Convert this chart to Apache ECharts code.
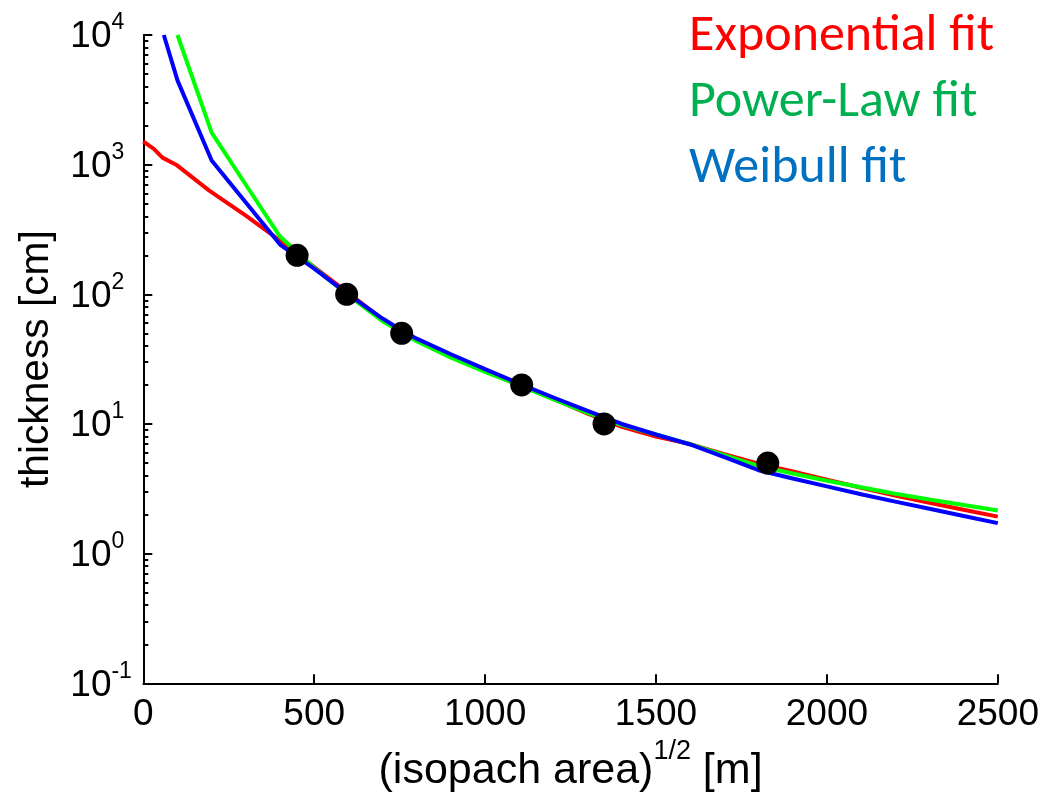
<!DOCTYPE html>
<html>
<head>
<meta charset="utf-8">
<script src="https://cdn.jsdelivr.net/npm/echarts@6/dist/echarts.min.js"></script>
<style>
html,body{margin:0;padding:0;background:#fff;}
#chart{width:1054px;height:792px;}
</style>
</head>
<body>
<div id="chart"></div>
<script>
// ---- data ----
const xTicks = [0, 500, 1000, 1500, 2000, 2500];
const yTicks = [0.1, 1, 10, 100, 1000, 10000];

const expX = [0, 17, 30, 56, 96, 193, 300, 400, 450, 500, 600, 700, 760, 800, 900, 1000, 1100, 1200, 1300, 1400, 1500, 1600, 1700, 1800, 1900, 2000, 2100, 2200, 2300, 2400, 2500];
const expY = [1514, 1403, 1330, 1133, 1000, 631, 405, 260, 205, 162, 102, 64, 51, 44.5, 33.5, 26, 20, 15.6, 12, 9.5, 8.0, 7.0, 5.85, 4.95, 4.3, 3.72, 3.22, 2.8, 2.47, 2.18, 1.93];

const powX = [100, 200, 300, 400, 450, 500, 600, 700, 760, 800, 900, 1000, 1100, 1200, 1300, 1400, 1500, 1600, 1700, 1800, 1900, 2000, 2100, 2200, 2300, 2400, 2500];
const powY = [10000, 1766, 700, 279, 212, 160, 98, 62, 50, 43.5, 32.5, 25.2, 19.8, 15.5, 12.2, 9.8, 8.3, 7.0, 5.75, 4.75, 4.15, 3.65, 3.25, 2.9, 2.62, 2.37, 2.15];

const weiX = [60, 100, 200, 300, 400, 450, 500, 600, 700, 760, 800, 900, 1000, 1100, 1200, 1300, 1400, 1500, 1600, 1700, 1800, 1900, 2000, 2100, 2200, 2300, 2400, 2500];
const weiY = [10000, 4467, 1076, 510, 242, 195, 158, 100, 65, 52, 45.5, 34.5, 26.5, 20.5, 16, 12.6, 10, 8.3, 6.95, 5.55, 4.4, 3.8, 3.3, 2.87, 2.52, 2.22, 1.95, 1.72];

const obsX = [450, 595, 756, 1107, 1348, 1827];
const obsY = [200, 100, 50, 20, 10, 5];

const seriesNames = ['Exponential fit', 'Power-Law fit', 'Weibull fit'];
const legendColors = ['#FF0000', '#00B050', '#0070C0'];
const lineColors = ['#FF0000', '#00FF00', '#0000FF'];

// minor tick positions for the log axis (2..9 x 10^k)
const minorTicks = [];
for (let k = -1; k < 4; k++) {
  for (let m = 2; m <= 9; m++) minorTicks.push(+(m * Math.pow(10, k)).toPrecision(6));
}

const zip = (xs, ys) => xs.map((x, i) => [x, ys[i]]);

const FONT = '"Liberation Sans", Arial, sans-serif';
const chart = echarts.init(document.getElementById('chart'), null, {renderer: 'canvas'});

const option = {
  animation: false,
  backgroundColor: '#ffffff',
  grid: {left: 143.3, right: 56.2, top: 35, bottom: 108.7, containLabel: false, outerBoundsMode: 'none'},
  legend: {
    orient: 'vertical',
    left: 679,
    top: 4,
    itemWidth: 0,
    itemHeight: 0,
    itemGap: 10,
    selectedMode: false,
    textStyle: {fontSize: 52, fontFamily: 'Carlito, Lato, sans-serif', lineHeight: 56},
    data: seriesNames.map((n, i) => ({name: n, icon: 'rect', textStyle: {color: legendColors[i]}}))
  },
  xAxis: {
    type: 'value',
    min: 0, max: 2500, interval: 500,
    axisLine: {show: true, lineStyle: {color: '#000', width: 2}},
    axisTick: {show: true, inside: true, length: 9, lineStyle: {color: '#000', width: 2}},
    axisLabel: {fontSize: 37, color: '#000', fontFamily: FONT, margin: 13,
      customValues: xTicks, formatter: v => String(v)},
    splitLine: {show: false},
    name: '{a|(isopach area)}{s|1/2}{a| [m]}',
    nameLocation: 'middle',
    nameGap: 56,
    nameTextStyle: {
      color: '#000', fontFamily: FONT, fontSize: 43,
      rich: {
        a: {fontSize: 43, lineHeight: 43, fontFamily: FONT, color: '#000'},
        s: {fontSize: 27, lineHeight: 27, fontFamily: FONT, color: '#000', padding: [0, 0, 38, 0]}
      }
    }
  },
  yAxis: [{
    type: 'log',
    logBase: 10,
    min: 0.1, max: 10000,
    axisLine: {show: true, lineStyle: {color: '#000', width: 2}},
    axisTick: {show: true, inside: true, length: 9, lineStyle: {color: '#000', width: 2}, customValues: yTicks},
    axisLabel: {
      customValues: yTicks,
      align: 'left',
      margin: 73,
      formatter: v => '{b|10}{s|' + Math.round(Math.log10(v)) + '}',
      rich: {
        b: {fontSize: 37, lineHeight: 37, fontFamily: FONT, color: '#000', padding: [4, 0, 0, 0]},
        s: {fontSize: 23, lineHeight: 23, fontFamily: FONT, color: '#000', padding: [0, 0, 24, 0]}
      }
    },
    splitLine: {show: false},
    name: 'thickness [cm]',
    nameLocation: 'middle',
    nameGap: 86,
    nameTextStyle: {color: '#000', fontFamily: FONT, fontSize: 40.7}
  }, {
    type: 'log',
    logBase: 10,
    min: 0.1, max: 10000,
    position: 'left',
    axisLine: {show: false},
    axisTick: {show: true, inside: true, length: 5, lineStyle: {color: '#000', width: 2}, customValues: minorTicks},
    axisLabel: {show: false},
    splitLine: {show: false}
  }],
  series: [
    {name: seriesNames[0], type: 'line', data: zip(expX, expY), showSymbol: false, symbol: 'none',
      lineStyle: {color: lineColors[0], width: 4}, itemStyle: {color: lineColors[0]}, clip: true, z: 2},
    {name: seriesNames[1], type: 'line', data: zip(powX, powY), showSymbol: false, symbol: 'none',
      lineStyle: {color: lineColors[1], width: 4}, itemStyle: {color: lineColors[1]}, clip: true, z: 3},
    {name: seriesNames[2], type: 'line', data: zip(weiX, weiY), showSymbol: false, symbol: 'none',
      lineStyle: {color: lineColors[2], width: 4}, itemStyle: {color: lineColors[2]}, clip: true, z: 4},
    {name: 'data', type: 'scatter', data: zip(obsX, obsY), symbol: 'circle', symbolSize: 23,
      itemStyle: {color: '#000', opacity: 1}, z: 10}
  ]
};
chart.setOption(option);
</script>
</body>
</html>
